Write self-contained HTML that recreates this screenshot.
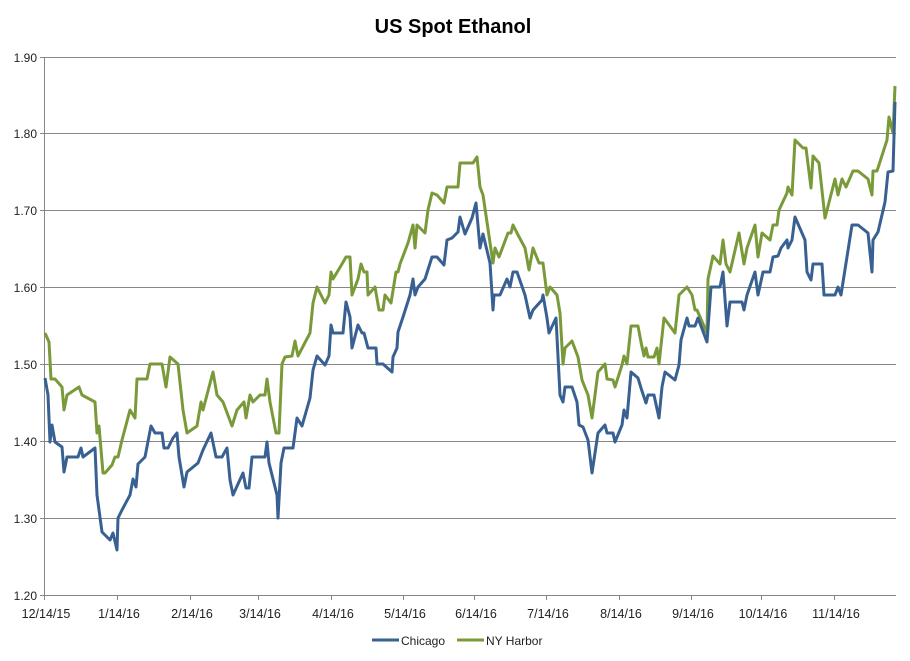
<!DOCTYPE html>
<html><head><meta charset="utf-8"><style>
body{margin:0;background:#fff;}
svg{display:block;font-family:"Liberation Sans",sans-serif;}
</style></head><body>
<svg width="910" height="661" viewBox="0 0 910 661" xmlns="http://www.w3.org/2000/svg">
<rect width="910" height="661" fill="#fff"/>
<text x="453" y="33" text-anchor="middle" font-size="20" font-weight="bold" fill="#000">US Spot Ethanol</text>
<g stroke="#868686" stroke-width="1">
<line x1="44" y1="57.5" x2="896" y2="57.5"/>
<line x1="44" y1="133.5" x2="896" y2="133.5"/>
<line x1="44" y1="210.5" x2="896" y2="210.5"/>
<line x1="44" y1="287.5" x2="896" y2="287.5"/>
<line x1="44" y1="364.5" x2="896" y2="364.5"/>
<line x1="44" y1="441.5" x2="896" y2="441.5"/>
<line x1="44" y1="518.5" x2="896" y2="518.5"/>
<line x1="44" y1="595.5" x2="896" y2="595.5"/>
<line x1="44.5" y1="57" x2="44.5" y2="595"/>
<line x1="40" y1="57.5" x2="44" y2="57.5"/><line x1="40" y1="133.5" x2="44" y2="133.5"/><line x1="40" y1="210.5" x2="44" y2="210.5"/><line x1="40" y1="287.5" x2="44" y2="287.5"/><line x1="40" y1="364.5" x2="44" y2="364.5"/><line x1="40" y1="441.5" x2="44" y2="441.5"/><line x1="40" y1="518.5" x2="44" y2="518.5"/><line x1="40" y1="595.5" x2="44" y2="595.5"/>
<line x1="44.5" y1="595" x2="44.5" y2="600"/><line x1="117.5" y1="595" x2="117.5" y2="600"/><line x1="190.5" y1="595" x2="190.5" y2="600"/><line x1="258.5" y1="595" x2="258.5" y2="600"/><line x1="331.5" y1="595" x2="331.5" y2="600"/><line x1="403.5" y1="595" x2="403.5" y2="600"/><line x1="474.5" y1="595" x2="474.5" y2="600"/><line x1="546.5" y1="595" x2="546.5" y2="600"/><line x1="619.5" y1="595" x2="619.5" y2="600"/><line x1="691.5" y1="595" x2="691.5" y2="600"/><line x1="761.5" y1="595" x2="761.5" y2="600"/><line x1="834.5" y1="595" x2="834.5" y2="600"/>
</g>
<g font-size="12" fill="#222" text-anchor="end">
<text x="37" y="62">1.90</text><text x="37" y="138">1.80</text><text x="37" y="215">1.70</text><text x="37" y="292">1.60</text><text x="37" y="369">1.50</text><text x="37" y="446">1.40</text><text x="37" y="523">1.30</text><text x="37" y="600">1.20</text>
</g>
<g font-size="12.5" fill="#222" text-anchor="middle">
<text x="46" y="618">12/14/15</text><text x="119" y="618">1/14/16</text><text x="192" y="618">2/14/16</text><text x="260" y="618">3/14/16</text><text x="333" y="618">4/14/16</text><text x="405" y="618">5/14/16</text><text x="476" y="618">6/14/16</text><text x="548" y="618">7/14/16</text><text x="621" y="618">8/14/16</text><text x="693" y="618">9/14/16</text><text x="763" y="618">10/14/16</text><text x="836" y="618">11/14/16</text>
</g>
<polyline fill="none" stroke="#7a9a3a" stroke-width="3" stroke-linejoin="round" points="45,333 49,342 51,379 55,379 62,387 64,410 67,395 79,387 82,395 95,402 97,433 99,426 103,473 105,473 112,465 115,457 118,457 122,440 130,410 135,418 137,379 147,379 150,364 162,364 166,387 170,357 178,364 183,410 187,433 197,426 201,402 203,410 213,372 217,395 223,402 232,426 237,410 244,402 246,418 250,395 253,402 260,395 265,395 267,379 270,402 276,433 279,433 282,364 285,357 292,356 295,341 298,356 310,333 313,303 317,287 325,303 329,295 331,272 333,279 342,264 346,257 350,257 352,295 358,279 361,264 364,272 367,272 368,295 375,287 379,310 383,310 385,295 391,303 396,272 398,272 400,264 408,243 413,225 415,248 417,225 425,233 428,210 432,193 437,195 444,203 447,187 458,187 460,163 473,163 477,157 480,187 483,195 493,263 495,248 499,257 508,233 511,233 513,225 517,233 525,248 529,270 533,248 539,263 543,263 547,295 550,287 557,295 560,313 563,364 565,348 572,341 578,357 582,380 588,395 592,418 598,372 605,364 607,379 613,380 615,387 622,365 624,356 627,364 631,326 638,326 641,342 644,356 646,348 648,357 654,357 657,348 659,364 664,318 675,333 679,295 687,287 692,295 695,310 697,310 707,333 708,279 713,256 720,264 723,240 726,264 730,272 739,233 744,264 747,248 755,225 758,257 762,233 770,240 773,225 777,225 779,210 787,193 788,187 792,195 795,140 803,148 806,148 811,188 813,156 819,163 825,218 835,179 838,195 842,179 846,187 853,171 858,171 868,179 872,195 873,171 877,171 887,140 889,117 893,133 895,86"/>
<polyline fill="none" stroke="#386092" stroke-width="3" stroke-linejoin="round" points="45,378 48,395 50,442 52,425 55,442 62,447 64,472 67,457 78,457 81,448 83,457 95,448 97,495 102,532 110,540 113,533 117,550 118,518 122,510 130,495 133,479 136,487 138,464 145,457 151,426 155,433 162,433 164,448 168,448 173,438 177,433 179,457 184,487 187,472 198,463 203,450 211,433 216,457 222,457 227,448 230,480 233,495 243,473 246,488 249,488 252,457 265,457 267,442 269,463 277,495 278,518 281,463 284,448 293,448 297,418 302,426 310,398 313,370 317,356 325,365 329,356 331,325 333,333 343,333 346,302 350,317 352,348 358,325 362,333 364,333 368,348 376,348 377,364 383,364 392,372 393,357 397,348 398,332 403,317 410,295 413,279 415,295 418,287 425,279 432,257 437,257 444,265 447,240 452,238 458,232 460,217 465,234 472,218 476,203 480,248 483,234 490,263 493,310 494,295 500,295 507,279 510,287 513,272 517,272 525,295 530,318 533,310 542,300 543,295 547,318 549,333 556,318 560,395 563,402 565,387 572,387 577,402 579,425 583,427 588,440 592,473 598,433 605,425 607,433 613,433 615,442 622,425 624,410 627,418 631,372 638,378 641,388 646,403 648,395 654,395 659,418 662,387 665,372 675,380 679,365 681,340 687,318 689,326 695,326 698,318 707,342 711,287 720,287 723,272 727,326 730,302 742,302 744,310 747,295 755,272 758,295 763,272 770,272 773,257 778,256 781,248 787,240 788,248 792,240 795,217 805,240 807,272 811,280 813,264 822,264 824,295 835,295 838,287 841,295 852,225 858,225 868,233 872,272 873,240 878,232 885,202 888,172 893,171 895,102"/>
<line x1="372" y1="640" x2="399" y2="640" stroke="#386092" stroke-width="3"/>
<text x="401" y="645" font-size="12" fill="#222">Chicago</text>
<line x1="457" y1="640" x2="484" y2="640" stroke="#7a9a3a" stroke-width="3"/>
<text x="486" y="645" font-size="12" fill="#222">NY Harbor</text>
</svg>
</body></html>
